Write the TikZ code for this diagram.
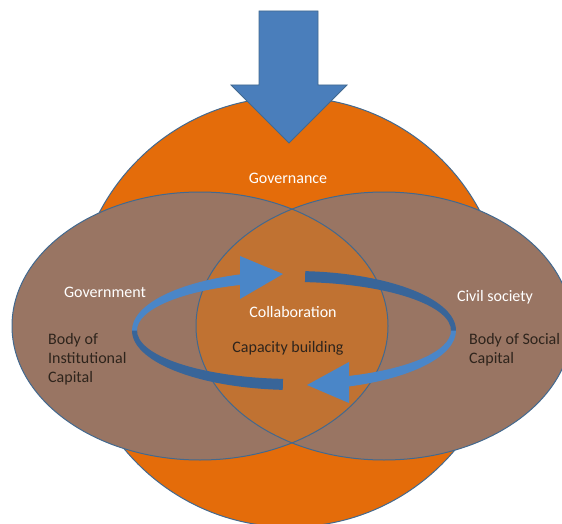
\documentclass[tikz,border=0pt]{standalone}
\usepackage{fontspec}
\setmainfont{Carlito}
\usetikzlibrary{calc}
\definecolor{orng}{HTML}{E46C0A}
\definecolor{brwn}{HTML}{997563}
\definecolor{lensc}{HTML}{C07232}
\definecolor{blu}{HTML}{4A7EBB}
\definecolor{bluL}{HTML}{4A86C8}
\definecolor{bluD}{HTML}{386599}
\definecolor{edgec}{HTML}{42698F}
\definecolor{dtxt}{HTML}{2E241C}
\tikzset{
  outline/.style={draw=edgec, line width=1pt},
  lbl/.style={inner sep=0pt, font=\fontsize{16}{19}\selectfont},
  wlbl/.style={lbl, text=white},
  dlbl/.style={lbl, text=dtxt}
}
% ribbon segment between outer and inner ellipses around (L): #1 start, #2 end
\newcommand{\ribbonseg}[3]{%
  \fill[#3] ($(L)+(#1:162 and 59.5)$) arc[start angle=#1, end angle=#2, x radius=162, y radius=59.5]
    -- ($(L)+(#2:157 and 48.5)$) arc[start angle=#2, end angle=#1, x radius=157, y radius=48.5] -- cycle;}
\begin{document}
\begin{tikzpicture}[x=1pt,y=-1pt]
\useasboundingbox (0,0) rectangle (562,524);
\fill[white] (0,0) rectangle (562,524);
% governance circle
\filldraw[fill=orng, outline] (290,312) circle[radius=215];
% ellipses
\fill[brwn] (200,326) ellipse[x radius=188, y radius=134];
\fill[brwn] (384,326) ellipse[x radius=188, y radius=134];
\begin{scope}
  \clip (200,326) ellipse[x radius=188, y radius=134];
  \fill[lensc] (384,326) ellipse[x radius=188, y radius=134];
\end{scope}
\draw[outline] (200,326) ellipse[x radius=188, y radius=134];
\draw[outline] (384,326) ellipse[x radius=188, y radius=134];
% down arrow
\filldraw[fill=blu, outline, line width=0.8pt] (259,11) -- (318,11) -- (318,85) -- (347,85) -- (289,143) -- (231,85) -- (259,85) -- cycle;
% loop arrows (twisted ribbon)
\coordinate (L) at (294,330.5);
\ribbonseg{94}{181}{bluD}
\ribbonseg{180}{251}{bluL}
\fill[bluL] (240,256) -- (283,274) -- (240,299) -- cycle;
\ribbonseg{-86}{1}{bluD}
\ribbonseg{0}{71}{bluL}
\fill[bluL] (349,362) -- (307,385) -- (349,403) -- cycle;
% labels
\node[wlbl] (gov) at (288,178) {Governance};
\node[wlbl] (gvt) at (105,292) {Government};
\node[wlbl] (civ) at (495,297) {Civil society};
\node[wlbl] (col) at (293,312) {Collaboration};
\node[dlbl] (cap) at (288,348) {Capacity building};
\node[dlbl, anchor=west, align=left] (bic) at (48,359) {Body of\\Institutional\\Capital};
\node[dlbl, anchor=west, align=left] (bsc) at (469,349.5) {Body of Social\\Capital};
\end{tikzpicture}
\end{document}
